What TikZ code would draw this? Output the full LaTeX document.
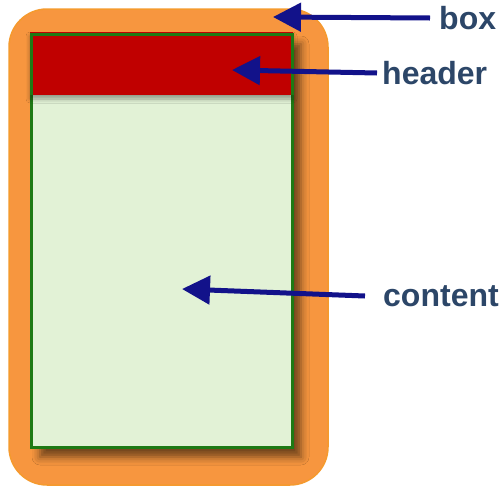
\documentclass[tikz,border=0pt]{standalone}
\usepackage{fontspec}
\setmainfont{Liberation Sans}
\usetikzlibrary{arrows.meta,shadows.blur}
\definecolor{boxorange}{HTML}{F7963F}
\definecolor{boxedge}{HTML}{F59A2E}
\definecolor{paneedge}{HTML}{1E7A14}
\definecolor{panefill}{HTML}{E2F2D6}
\definecolor{headred}{HTML}{C00000}
\definecolor{pointer}{HTML}{12128A}
\definecolor{labeltext}{HTML}{2C4668}
\tikzset{
  outerbox/.style={fill=boxorange,draw=boxedge,line width=1.5pt,rounded corners=38pt},
  pane/.style={fill=panefill,draw=paneedge,line width=3pt,
    blur shadow={shadow xshift=9pt,shadow yshift=-10pt,shadow blur radius=8pt,
      shadow opacity=55}},
  headbar/.style={fill=headred,
    blur shadow={shadow xshift=0pt,shadow yshift=-4pt,shadow blur radius=4pt,
      shadow opacity=35}},
  pointerarrow/.style={draw=pointer,line width=5pt,
    -{Triangle[length=28pt,width=28pt]}},
  tag/.style={font=\bfseries\fontsize{32}{34}\selectfont,text=labeltext,inner sep=0pt,anchor=west}
}
\begin{document}
\begin{tikzpicture}[x=1pt,y=-1pt]
  \useasboundingbox (0,0) rectangle (503,488);
  % outer rounded box
  \path[outerbox] (9,9) rectangle (328,485);
  % content pane with drop shadow
  \path[pane] (31,34) rectangle (292,447);
  % header bar across the top of the pane
  \path[headbar] (30,32) rectangle (293,95);
  \draw[paneedge,line width=3pt] (31,95) -- (31,34) -- (292,34) -- (292,95);
  % labels
  \node[tag] (boxlbl) at (439,18) {box};
  \node[tag] (headerlbl) at (382,73) {header};
  \node[tag] (contentlbl) at (383,296) {content};
  % arrow targets
  \coordinate (boxpt) at (273,17);
  \coordinate (headerpt) at (232,70);
  \coordinate (contentpt) at (182,289);
  % pointers
  \draw[pointerarrow] ([xshift=-9pt]boxlbl.west) -- (boxpt);
  \draw[pointerarrow] ([xshift=-5pt]headerlbl.west) -- (headerpt);
  \draw[pointerarrow] ([xshift=-18pt]contentlbl.west) -- (contentpt);
\end{tikzpicture}
\end{document}
